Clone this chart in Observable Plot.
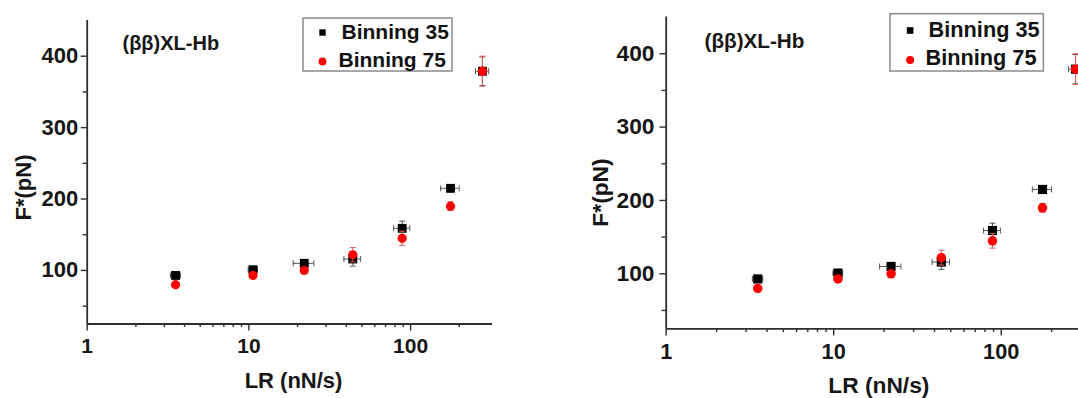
<!DOCTYPE html>
<html><head><meta charset="utf-8">
<script src="https://cdn.jsdelivr.net/npm/d3@7"></script>
<script src="https://cdn.jsdelivr.net/npm/@observablehq/plot@0.6"></script>
<style>
html,body{margin:0;padding:0;background:#fff;}
#wrap{position:relative;width:1078px;height:398px;overflow:hidden;background:#fff;}
#wrap svg{position:absolute;top:0;}
</style></head><body><div id="wrap"></div>
<script>
// ---- data ----
const seriesNames = ["Binning 35", "Binning 75"];
const panelTitle = "(ββ)XL-Hb";
const xLabel = "LR (nN/s)";
const yLabel = "F*(pN)";
const loadingRate    = [3.52, 10.6, 22.0, 43.9, 88.7, 176.5, 278];
const loadingRateErr = [0.25, 0.7, 3.2, 5.2, 10.2, 23, 26];
const force35    = [93, 101, 110, 116, 159, 215, 379];
const force35Err = [2, 3, 3, 10, 10, 5, 20];
const force75    = [80, 93, 100, 122, 145, 190, 379];
const force75Err = [2, 2, 3, 10, 10, 6, 21];
const xMajorTicks = [1, 10, 100];
const xMinorTicks = [2, 3, 4, 5, 6, 7, 8, 9, 20, 30, 40, 50, 60, 70, 80, 90, 200];
const yMajorTicks = [100, 200, 300, 400];
const yMinorTicks = [50, 150, 250, 350];

const rows35 = loadingRate.map((x, i) => ({x, xe: loadingRateErr[i], y: force35[i], ye: force35Err[i]}));
const rows75 = loadingRate.map((x, i) => ({x, y: force75[i], ye: force75Err[i]}));

const hcap = {draw(ctx) { ctx.moveTo(-3, 0); ctx.lineTo(3, 0); }};
const vcap = {draw(ctx) { ctx.moveTo(0, -3); ctx.lineTo(0, 3); }};

const FONT = "'Liberation Sans', Arial, Helvetica, sans-serif";
const AXIS = "#2e2e2e";
const BLACKERR = "#555";
const REDERR = "#e05a5a";
const TXT = "#161616";

function panel(g) {
  const W = g.width, H = 398;
  const mL = g.mL, mR = g.mR, mT = g.mT, mB = g.mB;
  const frameR = W - mR, frameB = H - mB;
  const at = (px, py) => ({frameAnchor: "top-left", dx: px - mL, dy: py - mT});
  const xmax = Math.pow(10, (frameR - mL) / g.decade);
  const k = g.k;
  return Plot.plot({
    width: W, height: H,
    marginLeft: mL, marginRight: mR, marginTop: mT, marginBottom: mB,
    style: {fontFamily: FONT, fontWeight: "bold", color: TXT, background: "white", overflow: "hidden"},
    x: {type: "log", domain: [1, xmax], axis: null},
    y: {type: "linear", domain: [25, 450], axis: null},
    marks: [
      // axes
      Plot.axisY({ticks: yMinorTicks, tickSize: 4 * k, tickFormat: () => "", stroke: AXIS, strokeWidth: 1.4, label: null}),
      Plot.axisY({ticks: yMajorTicks, tickSize: 6 * k, tickPadding: g.yPad, tickFormat: d => String(d),
        fontSize: 22 * k, fontWeight: "bold", fill: TXT, stroke: AXIS, strokeWidth: 1.4, label: null}),
      Plot.axisX({ticks: xMinorTicks, tickSize: 3.5 * k, tickFormat: () => "", stroke: AXIS, strokeWidth: 1.4, label: null}),
      Plot.axisX({ticks: xMajorTicks, tickSize: 7 * k, tickPadding: g.xPad, tickFormat: d => String(d),
        fontSize: 21 * k, fontWeight: "bold", fill: TXT, stroke: AXIS, strokeWidth: 1.4, label: null}),
      Plot.ruleX([1], {stroke: AXIS, strokeWidth: 1.8}),
      Plot.ruleY([25], {stroke: AXIS, strokeWidth: 1.8}),
      // Binning 35 error bars and points
      Plot.ruleY(rows35, {y: "y", x1: d => d.x - d.xe, x2: d => d.x + d.xe, stroke: BLACKERR, strokeWidth: 1}),
      Plot.ruleX(rows35, {x: "x", y1: d => d.y - d.ye, y2: d => d.y + d.ye, stroke: BLACKERR, strokeWidth: 1}),
      Plot.dot(rows35, {x: d => d.x - d.xe, y: "y", symbol: vcap, stroke: BLACKERR, strokeWidth: 1}),
      Plot.dot(rows35, {x: d => d.x + d.xe, y: "y", symbol: vcap, stroke: BLACKERR, strokeWidth: 1}),
      Plot.dot(rows35, {x: "x", y: d => d.y - d.ye, symbol: hcap, stroke: BLACKERR, strokeWidth: 1}),
      Plot.dot(rows35, {x: "x", y: d => d.y + d.ye, symbol: hcap, stroke: BLACKERR, strokeWidth: 1}),
      Plot.dot(rows35, {x: "x", y: "y", symbol: "square", r: 5 * k, fill: "#000"}),
      // Binning 75 error bars and points
      Plot.ruleX(rows75, {x: "x", y1: d => d.y - d.ye, y2: d => d.y + d.ye, stroke: REDERR, strokeWidth: 1}),
      Plot.dot(rows75, {x: "x", y: d => d.y - d.ye, symbol: hcap, stroke: REDERR, strokeWidth: 1}),
      Plot.dot(rows75, {x: "x", y: d => d.y + d.ye, symbol: hcap, stroke: REDERR, strokeWidth: 1}),
      Plot.dot(rows75, {x: "x", y: "y", r: 4.6 * k, fill: "#f00"}),
      // titles
      Plot.text([panelTitle], {text: d => d, ...at(g.title[0], g.title[1]), textAnchor: "start", lineAnchor: "middle", fontSize: 20 * k, fontWeight: "bold", fill: TXT}),
      Plot.text([xLabel], {text: d => d, ...at(g.xl[0], g.xl[1]), textAnchor: "middle", lineAnchor: "middle", fontSize: 22 * k, fontWeight: "bold", fill: TXT}),
      Plot.text([yLabel], {text: d => d, ...at(g.yl[0], g.yl[1]), rotate: -90, textAnchor: "middle", lineAnchor: "middle", fontSize: 22 * k, fontWeight: "bold", fill: TXT}),
      // legend
      Plot.rect([0], {insetLeft: g.box[0] - mL, insetRight: frameR - g.box[1], insetTop: g.box[2] - mT, insetBottom: frameB - g.box[3],
        fill: "white", stroke: "#8a8a8a", strokeWidth: 1.5}),
      Plot.dot([seriesNames[0]], {...at(g.mk, g.rows[0]), symbol: "square", r: 3.6 * k, fill: "#000"}),
      Plot.dot([seriesNames[1]], {...at(g.mk, g.rows[1] + 1.5), r: 3.9 * k, fill: "#f00"}),
      Plot.text([seriesNames[0]], {text: d => d, ...at(g.tx + 3 * k, g.rows[0]), textAnchor: "start", lineAnchor: "middle", fontSize: 21 * k, fontWeight: "bold", fill: "#111"}),
      Plot.text([seriesNames[1]], {text: d => d, ...at(g.tx, g.rows[1]), textAnchor: "start", lineAnchor: "middle", fontSize: 21 * k, fontWeight: "bold", fill: "#111"})
    ]
  });
}

const wrap = document.getElementById("wrap");
const left = panel({width: 500, mL: 86.7, mR: 8, mT: 20, mB: 74.5, decade: 161.7, k: 1,
  yPad: 3, xPad: 7, title: [122, 43], xl: [293, 380.5], yl: [23, 187],
  box: [303, 452, 18, 71], mk: 322, tx: 338, rows: [32, 59.5]});
left.style.left = "0px";
wrap.appendChild(left);

const right = panel({width: 518, mL: 105.7, mR: 0, mT: 16.6, mB: 69.7, decade: 167.5, k: 1.035,
  yPad: 5.5, xPad: 7.5, title: [144, 41], xl: [318.3, 385.5], yl: [40, 192],
  box: [330, 483.4, 13.7, 71], mk: 349.6, tx: 365, rows: [30, 58]});
right.style.left = "560px";
wrap.appendChild(right);
</script>
</body></html>
